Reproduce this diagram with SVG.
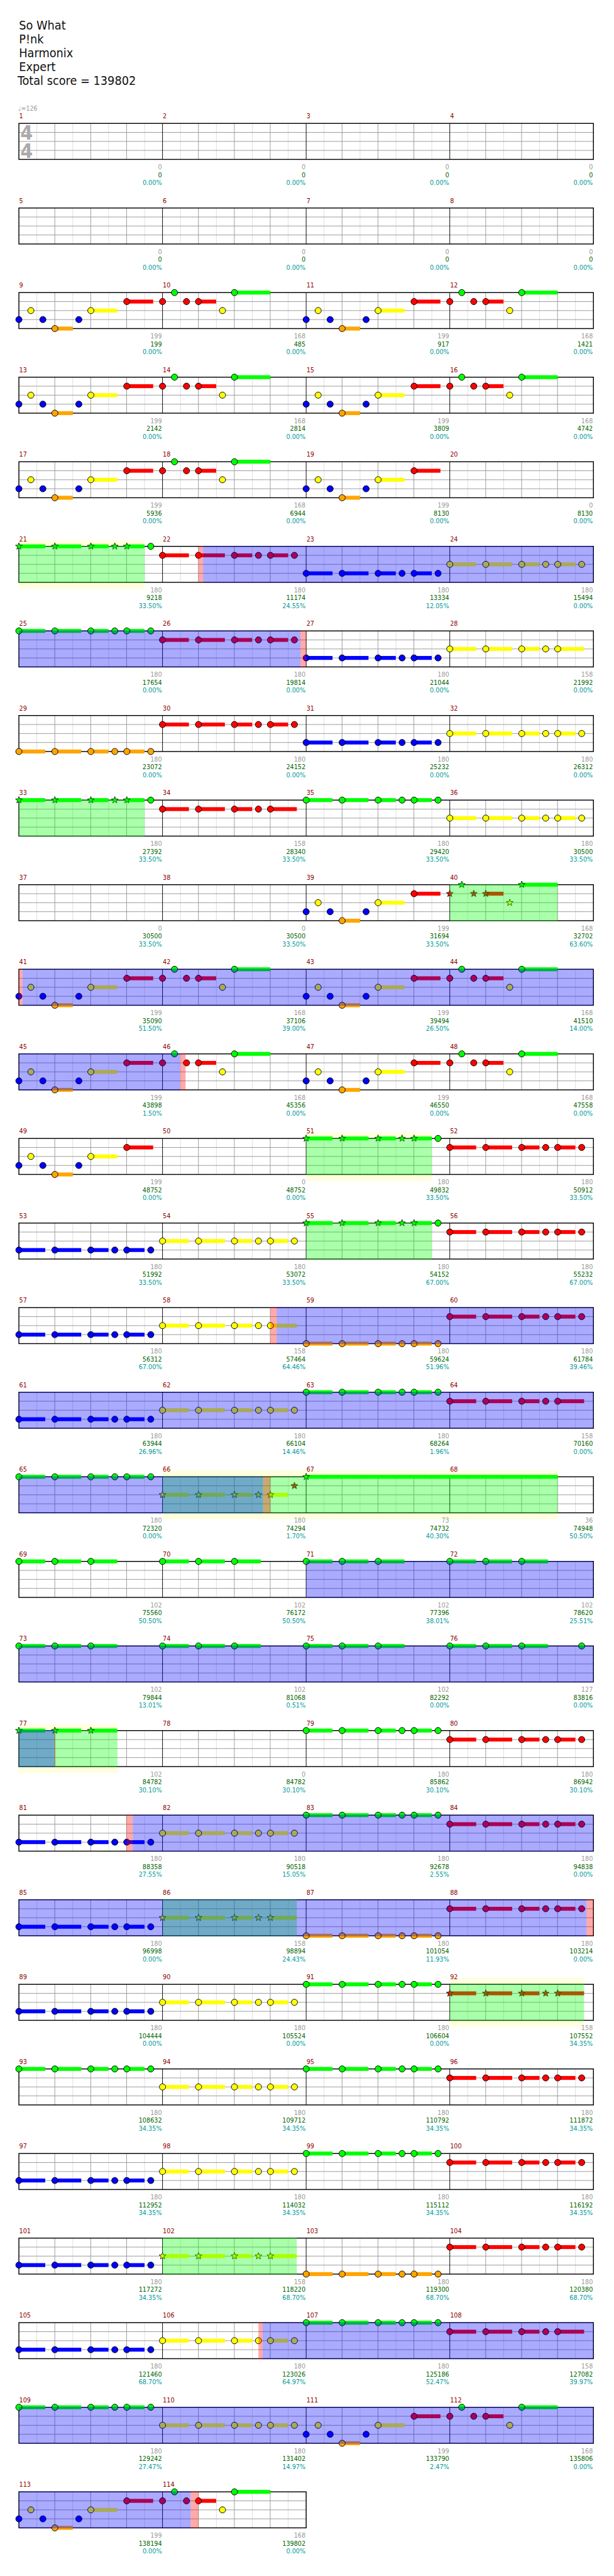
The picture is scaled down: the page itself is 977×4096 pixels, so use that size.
<svg xmlns="http://www.w3.org/2000/svg" width="977" height="4096" viewBox="0 0 977 4096">
<style>
text{font-family:"DejaVu Sans Condensed","DejaVu Sans",sans-serif;font-stretch:condensed}
.mn{fill:#8b0000;font-size:11.3px}
.a{fill:#999;font-size:11.3px;text-anchor:end}
.b{fill:#006400;font-size:11.3px;text-anchor:end}
.p{fill:#009999;font-size:11.3px;text-anchor:end}
.og{fill:#0f0;fill-opacity:.333}
.ob{fill:#00f;fill-opacity:.333}
.op{fill:#f00;fill-opacity:.333}
.bd{fill:#ffffdd}
</style>
<defs>
<circle id="c" r="5.2" stroke="#000" stroke-width="1"/>
<path id="s" d="M0,-6 L1.47,-2.02 5.71,-1.85 2.38,0.77 3.53,4.85 0,2.5 -3.53,4.85 -2.38,0.77 -5.71,-1.85 -1.47,-2.02Z" stroke="#000" stroke-width="0.8"/>
<g id="tB"><rect y="-3.25" width="44" height="6.5"/><rect x="60" y="-3.25" width="44" height="6.5"/><rect x="120" y="-3.25" width="29.5" height="6.5"/><rect x="180" y="-3.25" width="29.5" height="6.5"/></g>
<g id="tB5"><rect y="-3.25" width="44" height="6.5"/><rect x="60" y="-3.25" width="44" height="6.5"/><rect x="120" y="-3.25" width="29.5" height="6.5"/><rect x="180" y="-3.25" width="44" height="6.5"/></g>
<g id="pB"><use href="#tB"/><use href="#c"/><use href="#c" x="60"/><use href="#c" x="120"/><use href="#c" x="160"/><use href="#c" x="180"/><use href="#c" x="220"/></g>
<g id="pB5"><use href="#tB5"/><use href="#c"/><use href="#c" x="60"/><use href="#c" x="120"/><use href="#c" x="160"/><use href="#c" x="180"/></g>
<g id="sB"><use href="#tB"/><use href="#s"/><use href="#s" x="60"/><use href="#s" x="120"/><use href="#s" x="160"/><use href="#s" x="180"/><use href="#c" x="220"/></g>
<g id="sB5"><use href="#tB5"/><use href="#s"/><use href="#s" x="60"/><use href="#s" x="120"/><use href="#s" x="160"/><use href="#s" x="180"/></g>
<g id="g3"><rect y="-3.25" width="44" height="6.5"/><rect x="60" y="-3.25" width="44" height="6.5"/><rect x="120" y="-3.25" width="44" height="6.5"/><use href="#c"/><use href="#c" x="60"/><use href="#c" x="120"/></g>
<g id="s3"><rect y="-3.25" width="44" height="6.5"/><rect x="60" y="-3.25" width="44" height="6.5"/><rect x="120" y="-3.25" width="44" height="6.5"/><use href="#s"/><use href="#s" x="60"/><use href="#s" x="120"/></g>
<g id="A1">
<rect x="60" y="56.75" width="30" height="6.5" fill="#ffa500"/>
<rect x="120" y="26.75" width="44" height="6.5" fill="#ff0"/>
<rect x="180" y="11.75" width="44" height="6.5" fill="#f00"/>
<use href="#c" y="45" fill="#00f"/>
<use href="#c" x="20" y="30" fill="#ff0"/>
<use href="#c" x="40" y="45" fill="#00f"/>
<use href="#c" x="60" y="60" fill="#ffa500"/>
<use href="#c" x="100" y="45" fill="#00f"/>
<use href="#c" x="120" y="30" fill="#ff0"/>
<use href="#c" x="180" y="15" fill="#f00"/>
</g>
<g id="A2">
<rect x="60" y="11.75" width="29.5" height="6.5" fill="#f00"/>
<rect x="120" y="-3.25" width="60" height="6.5" fill="#0f0"/>
<use href="#c" y="15" fill="#f00"/>
<use href="#c" x="20" fill="#0f0"/>
<use href="#c" x="40" y="15" fill="#f00"/>
<use href="#c" x="60" y="15" fill="#f00"/>
<use href="#c" x="100" y="30" fill="#ff0"/>
<use href="#c" x="120" fill="#0f0"/>
</g>
<g id="sA2">
<rect x="60" y="11.75" width="29.5" height="6.5" fill="#f00"/>
<rect x="120" y="-3.25" width="60" height="6.5" fill="#0f0"/>
<use href="#s" y="15" fill="#f00"/>
<use href="#s" x="20" fill="#0f0"/>
<use href="#s" x="40" y="15" fill="#f00"/>
<use href="#s" x="60" y="15" fill="#f00"/>
<use href="#s" x="100" y="30" fill="#ff0"/>
<use href="#s" x="120" fill="#0f0"/>
</g>
<g id="st4">
<rect x="31.5" width="958.4" height="60" fill="#fff"/>
<path stroke="#ddd" fill="none" d="M61.45,0v60M121.35,0v60M181.25,0v60M241.15,0v60M301.05,0v60M360.95,0v60M420.85,0v60M480.75,0v60M540.65,0v60M600.55,0v60M660.45,0v60M720.35,0v60M780.25,0v60M840.15,0v60M900.05,0v60M959.95,0v60"/>
<path stroke="#999" fill="none" d="M91.4,0v60M151.3,0v60M211.2,0v60M331,0v60M390.9,0v60M450.8,0v60M570.6,0v60M630.5,0v60M690.4,0v60M810.2,0v60M870.1,0v60M930,0v60M31.5,15H989.9M31.5,30H989.9M31.5,45H989.9"/>
<path stroke="#000" fill="none" d="M271.1,0v60M510.7,0v60M750.3,0v60"/>
<rect x="31.5" width="958.4" height="60" fill="none" stroke="#000" stroke-width="1.5"/>
</g>
<g id="st2">
<rect x="31.5" width="479.2" height="60" fill="#fff"/>
<path stroke="#ddd" fill="none" d="M61.45,0v60M121.35,0v60M181.25,0v60M241.15,0v60M301.05,0v60M360.95,0v60M420.85,0v60M480.75,0v60"/>
<path stroke="#999" fill="none" d="M91.4,0v60M151.3,0v60M211.2,0v60M331,0v60M390.9,0v60M450.8,0v60M31.5,15H510.7M31.5,30H510.7M31.5,45H510.7"/>
<path stroke="#000" fill="none" d="M271.1,0v60"/>
<rect x="31.5" width="479.2" height="60" fill="none" stroke="#000" stroke-width="1.5"/>
</g>
</defs>
<g transform="scale(0.9539)">
<g id="title" fill="#111" font-size="20.7">
<text x="31.7" y="49.3" style="font-size:20.7px">So What</text>
<text x="31.7" y="72.3" style="font-size:20.7px">P!nk</text>
<text x="31.7" y="95.3" style="font-size:20.7px">Harmonix</text>
<text x="31.7" y="118.3" style="font-size:20.7px">Expert</text>
<text x="29.3" y="141.7" style="font-size:20.7px">Total score = 139802</text>
</g>

<g id="row1" transform="translate(0,205.7)">
<use href="#st4"/>
<text x="30.5" y="-20.7" style="fill:#999;font-size:11px">♩=126</text>
<text x="44.5" y="27.5" style="fill:#aaa;font-size:33px;font-weight:bold;text-anchor:middle">4</text>
<text x="44.5" y="57.5" style="fill:#aaa;font-size:33px;font-weight:bold;text-anchor:middle">4</text>
<text class="mn" x="32" y="-8.5">1</text><text class="mn" x="271.6" y="-8.5">2</text><text class="mn" x="511.2" y="-8.5">3</text><text class="mn" x="750.8" y="-8.5">4</text>
<text class="a" x="270.1" y="76.7">0</text><text class="b" x="270.1" y="89.7">0</text><text class="p" x="270.1" y="102.7">0.00%</text>
<text class="a" x="509.7" y="76.7">0</text><text class="b" x="509.7" y="89.7">0</text><text class="p" x="509.7" y="102.7">0.00%</text>
<text class="a" x="749.3" y="76.7">0</text><text class="b" x="749.3" y="89.7">0</text><text class="p" x="749.3" y="102.7">0.00%</text>
<text class="a" x="988.9" y="76.7">0</text><text class="b" x="988.9" y="89.7">0</text><text class="p" x="988.9" y="102.7">0.00%</text>
</g>

<g id="row2" transform="translate(0,346.7)">
<use href="#st4"/>
<text class="mn" x="32" y="-8.5">5</text><text class="mn" x="271.6" y="-8.5">6</text><text class="mn" x="511.2" y="-8.5">7</text><text class="mn" x="750.8" y="-8.5">8</text>
<text class="a" x="270.1" y="76.7">0</text><text class="b" x="270.1" y="89.7">0</text><text class="p" x="270.1" y="102.7">0.00%</text>
<text class="a" x="509.7" y="76.7">0</text><text class="b" x="509.7" y="89.7">0</text><text class="p" x="509.7" y="102.7">0.00%</text>
<text class="a" x="749.3" y="76.7">0</text><text class="b" x="749.3" y="89.7">0</text><text class="p" x="749.3" y="102.7">0.00%</text>
<text class="a" x="988.9" y="76.7">0</text><text class="b" x="988.9" y="89.7">0</text><text class="p" x="988.9" y="102.7">0.00%</text>
</g>

<g id="row3" transform="translate(0,487.7)">
<use href="#st4"/>
<use href="#A1" x="31.5"/><use href="#A2" x="271.1"/><use href="#A1" x="510.7"/><use href="#A2" x="750.3"/>
<text class="mn" x="32" y="-8.5">9</text><text class="mn" x="271.6" y="-8.5">10</text><text class="mn" x="511.2" y="-8.5">11</text><text class="mn" x="750.8" y="-8.5">12</text>
<text class="a" x="270.1" y="76.7">199</text><text class="b" x="270.1" y="89.7">199</text><text class="p" x="270.1" y="102.7">0.00%</text>
<text class="a" x="509.7" y="76.7">168</text><text class="b" x="509.7" y="89.7">485</text><text class="p" x="509.7" y="102.7">0.00%</text>
<text class="a" x="749.3" y="76.7">199</text><text class="b" x="749.3" y="89.7">917</text><text class="p" x="749.3" y="102.7">0.00%</text>
<text class="a" x="988.9" y="76.7">168</text><text class="b" x="988.9" y="89.7">1421</text><text class="p" x="988.9" y="102.7">0.00%</text>
</g>

<g id="row4" transform="translate(0,628.7)">
<use href="#st4"/>
<use href="#A1" x="31.5"/><use href="#A2" x="271.1"/><use href="#A1" x="510.7"/><use href="#A2" x="750.3"/>
<text class="mn" x="32" y="-8.5">13</text><text class="mn" x="271.6" y="-8.5">14</text><text class="mn" x="511.2" y="-8.5">15</text><text class="mn" x="750.8" y="-8.5">16</text>
<text class="a" x="270.1" y="76.7">199</text><text class="b" x="270.1" y="89.7">2142</text><text class="p" x="270.1" y="102.7">0.00%</text>
<text class="a" x="509.7" y="76.7">168</text><text class="b" x="509.7" y="89.7">2814</text><text class="p" x="509.7" y="102.7">0.00%</text>
<text class="a" x="749.3" y="76.7">199</text><text class="b" x="749.3" y="89.7">3809</text><text class="p" x="749.3" y="102.7">0.00%</text>
<text class="a" x="988.9" y="76.7">168</text><text class="b" x="988.9" y="89.7">4742</text><text class="p" x="988.9" y="102.7">0.00%</text>
</g>

<g id="row5" transform="translate(0,769.7)">
<use href="#st4"/>
<use href="#A1" x="31.5"/><use href="#A2" x="271.1"/><use href="#A1" x="510.7"/>
<text class="mn" x="32" y="-8.5">17</text><text class="mn" x="271.6" y="-8.5">18</text><text class="mn" x="511.2" y="-8.5">19</text><text class="mn" x="750.8" y="-8.5">20</text>
<text class="a" x="270.1" y="76.7">199</text><text class="b" x="270.1" y="89.7">5936</text><text class="p" x="270.1" y="102.7">0.00%</text>
<text class="a" x="509.7" y="76.7">168</text><text class="b" x="509.7" y="89.7">6944</text><text class="p" x="509.7" y="102.7">0.00%</text>
<text class="a" x="749.3" y="76.7">199</text><text class="b" x="749.3" y="89.7">8130</text><text class="p" x="749.3" y="102.7">0.00%</text>
<text class="a" x="988.9" y="76.7">0</text><text class="b" x="988.9" y="89.7">8130</text><text class="p" x="988.9" y="102.7">0.00%</text>
</g>

<g id="row6" transform="translate(0,910.7)">
<rect class="bd" x="31.5" y="-10.5" width="209.7" height="81"/>
<use href="#st4"/>
<use href="#sB" x="31.5" y="0" fill="#0f0"/><use href="#pB" x="271.1" y="15" fill="#f00"/><use href="#pB" x="510.7" y="45" fill="#00f"/><use href="#pB" x="750.3" y="30" fill="#ff0"/>
<rect class="og" x="31.5" y="-0.75" width="209.7" height="61.5"/>
<rect class="op" x="331.1" y="-0.75" width="7.7" height="61.5"/>
<rect class="ob" x="338.8" y="-0.75" width="651.1" height="61.5"/>
<text class="mn" x="32" y="-8.5">21</text><text class="mn" x="271.6" y="-8.5">22</text><text class="mn" x="511.2" y="-8.5">23</text><text class="mn" x="750.8" y="-8.5">24</text>
<text class="a" x="270.1" y="76.7">180</text><text class="b" x="270.1" y="89.7">9218</text><text class="p" x="270.1" y="102.7">33.50%</text>
<text class="a" x="509.7" y="76.7">180</text><text class="b" x="509.7" y="89.7">11174</text><text class="p" x="509.7" y="102.7">24.55%</text>
<text class="a" x="749.3" y="76.7">180</text><text class="b" x="749.3" y="89.7">13334</text><text class="p" x="749.3" y="102.7">12.05%</text>
<text class="a" x="988.9" y="76.7">180</text><text class="b" x="988.9" y="89.7">15494</text><text class="p" x="988.9" y="102.7">0.00%</text>
</g>

<g id="row7" transform="translate(0,1051.7)">
<use href="#st4"/>
<use href="#pB" x="31.5" y="0" fill="#0f0"/><use href="#pB" x="271.1" y="15" fill="#f00"/><use href="#pB" x="510.7" y="45" fill="#00f"/><use href="#pB5" x="750.3" y="30" fill="#ff0"/>
<rect class="ob" x="31.5" y="-0.75" width="469.9" height="61.5"/>
<rect class="op" x="501.4" y="-0.75" width="9.3" height="61.5"/>
<text class="mn" x="32" y="-8.5">25</text><text class="mn" x="271.6" y="-8.5">26</text><text class="mn" x="511.2" y="-8.5">27</text><text class="mn" x="750.8" y="-8.5">28</text>
<text class="a" x="270.1" y="76.7">180</text><text class="b" x="270.1" y="89.7">17654</text><text class="p" x="270.1" y="102.7">0.00%</text>
<text class="a" x="509.7" y="76.7">180</text><text class="b" x="509.7" y="89.7">19814</text><text class="p" x="509.7" y="102.7">0.00%</text>
<text class="a" x="749.3" y="76.7">180</text><text class="b" x="749.3" y="89.7">21044</text><text class="p" x="749.3" y="102.7">0.00%</text>
<text class="a" x="988.9" y="76.7">158</text><text class="b" x="988.9" y="89.7">21992</text><text class="p" x="988.9" y="102.7">0.00%</text>
</g>

<g id="row8" transform="translate(0,1192.7)">
<use href="#st4"/>
<use href="#pB" x="31.5" y="60" fill="#ffa500"/><use href="#pB" x="271.1" y="15" fill="#f00"/><use href="#pB" x="510.7" y="45" fill="#00f"/><use href="#pB" x="750.3" y="30" fill="#ff0"/>
<text class="mn" x="32" y="-8.5">29</text><text class="mn" x="271.6" y="-8.5">30</text><text class="mn" x="511.2" y="-8.5">31</text><text class="mn" x="750.8" y="-8.5">32</text>
<text class="a" x="270.1" y="76.7">180</text><text class="b" x="270.1" y="89.7">23072</text><text class="p" x="270.1" y="102.7">0.00%</text>
<text class="a" x="509.7" y="76.7">180</text><text class="b" x="509.7" y="89.7">24152</text><text class="p" x="509.7" y="102.7">0.00%</text>
<text class="a" x="749.3" y="76.7">180</text><text class="b" x="749.3" y="89.7">25232</text><text class="p" x="749.3" y="102.7">0.00%</text>
<text class="a" x="988.9" y="76.7">180</text><text class="b" x="988.9" y="89.7">26312</text><text class="p" x="988.9" y="102.7">0.00%</text>
</g>

<g id="row9" transform="translate(0,1333.7)">
<use href="#st4"/>
<use href="#sB" x="31.5" y="0" fill="#0f0"/><use href="#pB5" x="271.1" y="15" fill="#f00"/><use href="#pB" x="510.7" y="0" fill="#0f0"/><use href="#pB" x="750.3" y="30" fill="#ff0"/>
<rect class="og" x="31.5" y="-0.75" width="209.7" height="61.5"/>
<text class="mn" x="32" y="-8.5">33</text><text class="mn" x="271.6" y="-8.5">34</text><text class="mn" x="511.2" y="-8.5">35</text><text class="mn" x="750.8" y="-8.5">36</text>
<text class="a" x="270.1" y="76.7">180</text><text class="b" x="270.1" y="89.7">27392</text><text class="p" x="270.1" y="102.7">33.50%</text>
<text class="a" x="509.7" y="76.7">158</text><text class="b" x="509.7" y="89.7">28340</text><text class="p" x="509.7" y="102.7">33.50%</text>
<text class="a" x="749.3" y="76.7">180</text><text class="b" x="749.3" y="89.7">29420</text><text class="p" x="749.3" y="102.7">33.50%</text>
<text class="a" x="988.9" y="76.7">180</text><text class="b" x="988.9" y="89.7">30500</text><text class="p" x="988.9" y="102.7">33.50%</text>
</g>

<g id="row10" transform="translate(0,1474.7)">
<use href="#st4"/>
<use href="#A1" x="510.7"/><use href="#sA2" x="750.3"/>
<rect class="og" x="750.3" y="-0.75" width="179.7" height="61.5"/>
<text class="mn" x="32" y="-8.5">37</text><text class="mn" x="271.6" y="-8.5">38</text><text class="mn" x="511.2" y="-8.5">39</text><text class="mn" x="750.8" y="-8.5">40</text>
<text class="a" x="270.1" y="76.7">0</text><text class="b" x="270.1" y="89.7">30500</text><text class="p" x="270.1" y="102.7">33.50%</text>
<text class="a" x="509.7" y="76.7">0</text><text class="b" x="509.7" y="89.7">30500</text><text class="p" x="509.7" y="102.7">33.50%</text>
<text class="a" x="749.3" y="76.7">199</text><text class="b" x="749.3" y="89.7">31694</text><text class="p" x="749.3" y="102.7">33.50%</text>
<text class="a" x="988.9" y="76.7">168</text><text class="b" x="988.9" y="89.7">32702</text><text class="p" x="988.9" y="102.7">63.60%</text>
</g>

<g id="row11" transform="translate(0,1615.7)">
<use href="#st4"/>
<use href="#A1" x="31.5"/><use href="#A2" x="271.1"/><use href="#A1" x="510.7"/><use href="#A2" x="750.3"/>
<rect class="op" x="31.5" y="-0.75" width="6" height="61.5"/>
<rect class="ob" x="37.5" y="-0.75" width="952.4" height="61.5"/>
<text class="mn" x="32" y="-8.5">41</text><text class="mn" x="271.6" y="-8.5">42</text><text class="mn" x="511.2" y="-8.5">43</text><text class="mn" x="750.8" y="-8.5">44</text>
<text class="a" x="270.1" y="76.7">199</text><text class="b" x="270.1" y="89.7">35090</text><text class="p" x="270.1" y="102.7">51.50%</text>
<text class="a" x="509.7" y="76.7">168</text><text class="b" x="509.7" y="89.7">37106</text><text class="p" x="509.7" y="102.7">39.00%</text>
<text class="a" x="749.3" y="76.7">199</text><text class="b" x="749.3" y="89.7">39494</text><text class="p" x="749.3" y="102.7">26.50%</text>
<text class="a" x="988.9" y="76.7">168</text><text class="b" x="988.9" y="89.7">41510</text><text class="p" x="988.9" y="102.7">14.00%</text>
</g>

<g id="row12" transform="translate(0,1756.7)">
<use href="#st4"/>
<use href="#A1" x="31.5"/><use href="#A2" x="271.1"/><use href="#A1" x="510.7"/><use href="#A2" x="750.3"/>
<rect class="ob" x="31.5" y="-0.75" width="269.1" height="61.5"/>
<rect class="op" x="300.6" y="-0.75" width="9" height="61.5"/>
<text class="mn" x="32" y="-8.5">45</text><text class="mn" x="271.6" y="-8.5">46</text><text class="mn" x="511.2" y="-8.5">47</text><text class="mn" x="750.8" y="-8.5">48</text>
<text class="a" x="270.1" y="76.7">199</text><text class="b" x="270.1" y="89.7">43898</text><text class="p" x="270.1" y="102.7">1.50%</text>
<text class="a" x="509.7" y="76.7">168</text><text class="b" x="509.7" y="89.7">45356</text><text class="p" x="509.7" y="102.7">0.00%</text>
<text class="a" x="749.3" y="76.7">199</text><text class="b" x="749.3" y="89.7">46550</text><text class="p" x="749.3" y="102.7">0.00%</text>
<text class="a" x="988.9" y="76.7">168</text><text class="b" x="988.9" y="89.7">47558</text><text class="p" x="988.9" y="102.7">0.00%</text>
</g>

<g id="row13" transform="translate(0,1897.7)">
<rect class="bd" x="510.7" y="-10.5" width="209.7" height="81"/>
<use href="#st4"/>
<use href="#A1" x="31.5"/><use href="#sB" x="510.7" y="0" fill="#0f0"/><use href="#pB" x="750.3" y="15" fill="#f00"/>
<rect class="og" x="510.7" y="-0.75" width="209.7" height="61.5"/>
<text class="mn" x="32" y="-8.5">49</text><text class="mn" x="271.6" y="-8.5">50</text><text class="mn" x="511.2" y="-8.5">51</text><text class="mn" x="750.8" y="-8.5">52</text>
<text class="a" x="270.1" y="76.7">199</text><text class="b" x="270.1" y="89.7">48752</text><text class="p" x="270.1" y="102.7">0.00%</text>
<text class="a" x="509.7" y="76.7">0</text><text class="b" x="509.7" y="89.7">48752</text><text class="p" x="509.7" y="102.7">0.00%</text>
<text class="a" x="749.3" y="76.7">180</text><text class="b" x="749.3" y="89.7">49832</text><text class="p" x="749.3" y="102.7">33.50%</text>
<text class="a" x="988.9" y="76.7">180</text><text class="b" x="988.9" y="89.7">50912</text><text class="p" x="988.9" y="102.7">33.50%</text>
</g>

<g id="row14" transform="translate(0,2038.7)">
<use href="#st4"/>
<use href="#pB" x="31.5" y="45" fill="#00f"/><use href="#pB" x="271.1" y="30" fill="#ff0"/><use href="#sB" x="510.7" y="0" fill="#0f0"/><use href="#pB" x="750.3" y="15" fill="#f00"/>
<rect class="og" x="510.7" y="-0.75" width="209.7" height="61.5"/>
<text class="mn" x="32" y="-8.5">53</text><text class="mn" x="271.6" y="-8.5">54</text><text class="mn" x="511.2" y="-8.5">55</text><text class="mn" x="750.8" y="-8.5">56</text>
<text class="a" x="270.1" y="76.7">180</text><text class="b" x="270.1" y="89.7">51992</text><text class="p" x="270.1" y="102.7">33.50%</text>
<text class="a" x="509.7" y="76.7">180</text><text class="b" x="509.7" y="89.7">53072</text><text class="p" x="509.7" y="102.7">33.50%</text>
<text class="a" x="749.3" y="76.7">180</text><text class="b" x="749.3" y="89.7">54152</text><text class="p" x="749.3" y="102.7">67.00%</text>
<text class="a" x="988.9" y="76.7">180</text><text class="b" x="988.9" y="89.7">55232</text><text class="p" x="988.9" y="102.7">67.00%</text>
</g>

<g id="row15" transform="translate(0,2179.7)">
<use href="#st4"/>
<use href="#pB" x="31.5" y="45" fill="#00f"/><use href="#pB5" x="271.1" y="30" fill="#ff0"/><use href="#pB" x="510.7" y="60" fill="#ffa500"/><use href="#pB" x="750.3" y="15" fill="#f00"/>
<rect class="op" x="451.1" y="-0.75" width="10.4" height="61.5"/>
<rect class="ob" x="461.5" y="-0.75" width="528.4" height="61.5"/>
<text class="mn" x="32" y="-8.5">57</text><text class="mn" x="271.6" y="-8.5">58</text><text class="mn" x="511.2" y="-8.5">59</text><text class="mn" x="750.8" y="-8.5">60</text>
<text class="a" x="270.1" y="76.7">180</text><text class="b" x="270.1" y="89.7">56312</text><text class="p" x="270.1" y="102.7">67.00%</text>
<text class="a" x="509.7" y="76.7">158</text><text class="b" x="509.7" y="89.7">57464</text><text class="p" x="509.7" y="102.7">64.46%</text>
<text class="a" x="749.3" y="76.7">180</text><text class="b" x="749.3" y="89.7">59624</text><text class="p" x="749.3" y="102.7">51.96%</text>
<text class="a" x="988.9" y="76.7">180</text><text class="b" x="988.9" y="89.7">61784</text><text class="p" x="988.9" y="102.7">39.46%</text>
</g>

<g id="row16" transform="translate(0,2320.7)">
<use href="#st4"/>
<use href="#pB" x="31.5" y="45" fill="#00f"/><use href="#pB" x="271.1" y="30" fill="#ff0"/><use href="#pB" x="510.7" y="0" fill="#0f0"/><use href="#pB5" x="750.3" y="15" fill="#f00"/>
<rect class="ob" x="31.5" y="-0.75" width="958.4" height="61.5"/>
<text class="mn" x="32" y="-8.5">61</text><text class="mn" x="271.6" y="-8.5">62</text><text class="mn" x="511.2" y="-8.5">63</text><text class="mn" x="750.8" y="-8.5">64</text>
<text class="a" x="270.1" y="76.7">180</text><text class="b" x="270.1" y="89.7">63944</text><text class="p" x="270.1" y="102.7">26.96%</text>
<text class="a" x="509.7" y="76.7">180</text><text class="b" x="509.7" y="89.7">66104</text><text class="p" x="509.7" y="102.7">14.46%</text>
<text class="a" x="749.3" y="76.7">180</text><text class="b" x="749.3" y="89.7">68264</text><text class="p" x="749.3" y="102.7">1.96%</text>
<text class="a" x="988.9" y="76.7">158</text><text class="b" x="988.9" y="89.7">70160</text><text class="p" x="988.9" y="102.7">0.00%</text>
</g>

<g id="row17" transform="translate(0,2461.7)">
<rect class="bd" x="271.1" y="-10.5" width="659.2" height="81"/>
<use href="#st4"/>
<use href="#pB" x="31.5" y="0" fill="#0f0"/>
<use href="#tB" x="271.1" y="30" fill="#ff0"/>
<use href="#s" x="271.1" y="30" fill="#ff0"/><use href="#s" x="331.1" y="30" fill="#ff0"/><use href="#s" x="391.1" y="30" fill="#ff0"/><use href="#s" x="431.1" y="30" fill="#ff0"/><use href="#s" x="451.1" y="30" fill="#ff0"/>
<use href="#s" x="491.1" y="15" fill="#f00"/>
<rect x="510.7" y="-3.25" width="419.6" height="6.5" fill="#0f0"/>
<use href="#s" x="510.7" y="0" fill="#0f0"/>
<rect class="og" x="271.1" y="-0.75" width="659.2" height="61.5"/>
<rect class="ob" x="31.5" y="-0.75" width="407.3" height="61.5"/>
<rect class="op" x="438.8" y="-0.75" width="12.3" height="61.5"/>
<text class="mn" x="32" y="-8.5">65</text><text class="mn" x="271.6" y="-8.5">66</text><text class="mn" x="511.2" y="-8.5">67</text><text class="mn" x="750.8" y="-8.5">68</text>
<text class="a" x="270.1" y="76.7">180</text><text class="b" x="270.1" y="89.7">72320</text><text class="p" x="270.1" y="102.7">0.00%</text>
<text class="a" x="509.7" y="76.7">180</text><text class="b" x="509.7" y="89.7">74294</text><text class="p" x="509.7" y="102.7">1.70%</text>
<text class="a" x="749.3" y="76.7">73</text><text class="b" x="749.3" y="89.7">74732</text><text class="p" x="749.3" y="102.7">40.30%</text>
<text class="a" x="988.9" y="76.7">36</text><text class="b" x="988.9" y="89.7">74948</text><text class="p" x="988.9" y="102.7">50.50%</text>
</g>

<g id="row18" transform="translate(0,2602.7)">
<use href="#st4"/>
<use href="#g3" x="31.5" y="0" fill="#0f0"/><use href="#g3" x="271.1" y="0" fill="#0f0"/><use href="#g3" x="510.7" y="0" fill="#0f0"/><use href="#g3" x="750.3" y="0" fill="#0f0"/>
<rect class="ob" x="510.7" y="-0.75" width="479.2" height="61.5"/>
<text class="mn" x="32" y="-8.5">69</text><text class="mn" x="271.6" y="-8.5">70</text><text class="mn" x="511.2" y="-8.5">71</text><text class="mn" x="750.8" y="-8.5">72</text>
<text class="a" x="270.1" y="76.7">102</text><text class="b" x="270.1" y="89.7">75560</text><text class="p" x="270.1" y="102.7">50.50%</text>
<text class="a" x="509.7" y="76.7">102</text><text class="b" x="509.7" y="89.7">76172</text><text class="p" x="509.7" y="102.7">50.50%</text>
<text class="a" x="749.3" y="76.7">102</text><text class="b" x="749.3" y="89.7">77396</text><text class="p" x="749.3" y="102.7">38.01%</text>
<text class="a" x="988.9" y="76.7">102</text><text class="b" x="988.9" y="89.7">78620</text><text class="p" x="988.9" y="102.7">25.51%</text>
</g>

<g id="row19" transform="translate(0,2743.7)">
<use href="#st4"/>
<use href="#g3" x="31.5" y="0" fill="#0f0"/><use href="#g3" x="271.1" y="0" fill="#0f0"/><use href="#g3" x="510.7" y="0" fill="#0f0"/><use href="#g3" x="750.3" y="0" fill="#0f0"/>
<use href="#c" x="970.3" y="0" fill="#0f0"/>
<rect class="ob" x="31.5" y="-0.75" width="958.4" height="61.5"/>
<text class="mn" x="32" y="-8.5">73</text><text class="mn" x="271.6" y="-8.5">74</text><text class="mn" x="511.2" y="-8.5">75</text><text class="mn" x="750.8" y="-8.5">76</text>
<text class="a" x="270.1" y="76.7">102</text><text class="b" x="270.1" y="89.7">79844</text><text class="p" x="270.1" y="102.7">13.01%</text>
<text class="a" x="509.7" y="76.7">102</text><text class="b" x="509.7" y="89.7">81068</text><text class="p" x="509.7" y="102.7">0.51%</text>
<text class="a" x="749.3" y="76.7">102</text><text class="b" x="749.3" y="89.7">82292</text><text class="p" x="749.3" y="102.7">0.00%</text>
<text class="a" x="988.9" y="76.7">127</text><text class="b" x="988.9" y="89.7">83816</text><text class="p" x="988.9" y="102.7">0.00%</text>
</g>

<g id="row20" transform="translate(0,2884.7)">
<rect class="bd" x="31.5" y="-10.5" width="164.5" height="81"/>
<use href="#st4"/>
<use href="#s3" x="31.5" y="0" fill="#0f0"/><use href="#pB" x="510.7" y="0" fill="#0f0"/><use href="#pB" x="750.3" y="15" fill="#f00"/>
<rect class="og" x="31.5" y="-0.75" width="164.5" height="61.5"/>
<rect class="ob" x="31.5" y="-0.75" width="59.4" height="61.5"/>
<rect class="op" x="90.9" y="-0.75" width="1.5" height="61.5"/>
<text class="mn" x="32" y="-8.5">77</text><text class="mn" x="271.6" y="-8.5">78</text><text class="mn" x="511.2" y="-8.5">79</text><text class="mn" x="750.8" y="-8.5">80</text>
<text class="a" x="270.1" y="76.7">102</text><text class="b" x="270.1" y="89.7">84782</text><text class="p" x="270.1" y="102.7">30.10%</text>
<text class="a" x="509.7" y="76.7">0</text><text class="b" x="509.7" y="89.7">84782</text><text class="p" x="509.7" y="102.7">30.10%</text>
<text class="a" x="749.3" y="76.7">180</text><text class="b" x="749.3" y="89.7">85862</text><text class="p" x="749.3" y="102.7">30.10%</text>
<text class="a" x="988.9" y="76.7">180</text><text class="b" x="988.9" y="89.7">86942</text><text class="p" x="988.9" y="102.7">30.10%</text>
</g>

<g id="row21" transform="translate(0,3025.7)">
<use href="#st4"/>
<use href="#pB" x="31.5" y="45" fill="#00f"/><use href="#pB" x="271.1" y="30" fill="#ff0"/><use href="#pB" x="510.7" y="0" fill="#0f0"/><use href="#pB" x="750.3" y="15" fill="#f00"/>
<rect class="op" x="211" y="-0.75" width="10.5" height="61.5"/>
<rect class="ob" x="221.5" y="-0.75" width="768.4" height="61.5"/>
<text class="mn" x="32" y="-8.5">81</text><text class="mn" x="271.6" y="-8.5">82</text><text class="mn" x="511.2" y="-8.5">83</text><text class="mn" x="750.8" y="-8.5">84</text>
<text class="a" x="270.1" y="76.7">180</text><text class="b" x="270.1" y="89.7">88358</text><text class="p" x="270.1" y="102.7">27.55%</text>
<text class="a" x="509.7" y="76.7">180</text><text class="b" x="509.7" y="89.7">90518</text><text class="p" x="509.7" y="102.7">15.05%</text>
<text class="a" x="749.3" y="76.7">180</text><text class="b" x="749.3" y="89.7">92678</text><text class="p" x="749.3" y="102.7">2.55%</text>
<text class="a" x="988.9" y="76.7">180</text><text class="b" x="988.9" y="89.7">94838</text><text class="p" x="988.9" y="102.7">0.00%</text>
</g>

<g id="row22" transform="translate(0,3166.7)">
<use href="#st4"/>
<use href="#pB" x="31.5" y="45" fill="#00f"/><use href="#sB5" x="271.1" y="30" fill="#ff0"/><use href="#pB" x="510.7" y="60" fill="#ffa500"/><use href="#pB" x="750.3" y="15" fill="#f00"/>
<rect class="og" x="271.1" y="-0.75" width="224" height="61.5"/>
<rect class="ob" x="31.5" y="-0.75" width="946.9" height="61.5"/>
<rect class="op" x="978.4" y="-0.75" width="11.5" height="61.5"/>
<text class="mn" x="32" y="-8.5">85</text><text class="mn" x="271.6" y="-8.5">86</text><text class="mn" x="511.2" y="-8.5">87</text><text class="mn" x="750.8" y="-8.5">88</text>
<text class="a" x="270.1" y="76.7">180</text><text class="b" x="270.1" y="89.7">96998</text><text class="p" x="270.1" y="102.7">0.00%</text>
<text class="a" x="509.7" y="76.7">158</text><text class="b" x="509.7" y="89.7">98894</text><text class="p" x="509.7" y="102.7">24.43%</text>
<text class="a" x="749.3" y="76.7">180</text><text class="b" x="749.3" y="89.7">101054</text><text class="p" x="749.3" y="102.7">11.93%</text>
<text class="a" x="988.9" y="76.7">180</text><text class="b" x="988.9" y="89.7">103214</text><text class="p" x="988.9" y="102.7">0.00%</text>
</g>

<g id="row23" transform="translate(0,3307.7)">
<rect class="bd" x="750.3" y="-10.5" width="224" height="81"/>
<use href="#st4"/>
<use href="#pB" x="31.5" y="45" fill="#00f"/><use href="#pB" x="271.1" y="30" fill="#ff0"/><use href="#pB" x="510.7" y="0" fill="#0f0"/><use href="#sB5" x="750.3" y="15" fill="#f00"/>
<rect class="og" x="750.3" y="-0.75" width="224" height="61.5"/>
<text class="mn" x="32" y="-8.5">89</text><text class="mn" x="271.6" y="-8.5">90</text><text class="mn" x="511.2" y="-8.5">91</text><text class="mn" x="750.8" y="-8.5">92</text>
<text class="a" x="270.1" y="76.7">180</text><text class="b" x="270.1" y="89.7">104444</text><text class="p" x="270.1" y="102.7">0.00%</text>
<text class="a" x="509.7" y="76.7">180</text><text class="b" x="509.7" y="89.7">105524</text><text class="p" x="509.7" y="102.7">0.00%</text>
<text class="a" x="749.3" y="76.7">180</text><text class="b" x="749.3" y="89.7">106604</text><text class="p" x="749.3" y="102.7">0.00%</text>
<text class="a" x="988.9" y="76.7">158</text><text class="b" x="988.9" y="89.7">107552</text><text class="p" x="988.9" y="102.7">34.35%</text>
</g>

<g id="row24" transform="translate(0,3448.7)">
<use href="#st4"/>
<use href="#pB" x="31.5" y="0" fill="#0f0"/><use href="#pB" x="271.1" y="30" fill="#ff0"/><use href="#pB" x="510.7" y="0" fill="#0f0"/><use href="#pB" x="750.3" y="15" fill="#f00"/>
<text class="mn" x="32" y="-8.5">93</text><text class="mn" x="271.6" y="-8.5">94</text><text class="mn" x="511.2" y="-8.5">95</text><text class="mn" x="750.8" y="-8.5">96</text>
<text class="a" x="270.1" y="76.7">180</text><text class="b" x="270.1" y="89.7">108632</text><text class="p" x="270.1" y="102.7">34.35%</text>
<text class="a" x="509.7" y="76.7">180</text><text class="b" x="509.7" y="89.7">109712</text><text class="p" x="509.7" y="102.7">34.35%</text>
<text class="a" x="749.3" y="76.7">180</text><text class="b" x="749.3" y="89.7">110792</text><text class="p" x="749.3" y="102.7">34.35%</text>
<text class="a" x="988.9" y="76.7">180</text><text class="b" x="988.9" y="89.7">111872</text><text class="p" x="988.9" y="102.7">34.35%</text>
</g>

<g id="row25" transform="translate(0,3589.7)">
<use href="#st4"/>
<use href="#pB" x="31.5" y="45" fill="#00f"/><use href="#pB" x="271.1" y="30" fill="#ff0"/><use href="#pB" x="510.7" y="0" fill="#0f0"/><use href="#pB" x="750.3" y="15" fill="#f00"/>
<text class="mn" x="32" y="-8.5">97</text><text class="mn" x="271.6" y="-8.5">98</text><text class="mn" x="511.2" y="-8.5">99</text><text class="mn" x="750.8" y="-8.5">100</text>
<text class="a" x="270.1" y="76.7">180</text><text class="b" x="270.1" y="89.7">112952</text><text class="p" x="270.1" y="102.7">34.35%</text>
<text class="a" x="509.7" y="76.7">180</text><text class="b" x="509.7" y="89.7">114032</text><text class="p" x="509.7" y="102.7">34.35%</text>
<text class="a" x="749.3" y="76.7">180</text><text class="b" x="749.3" y="89.7">115112</text><text class="p" x="749.3" y="102.7">34.35%</text>
<text class="a" x="988.9" y="76.7">180</text><text class="b" x="988.9" y="89.7">116192</text><text class="p" x="988.9" y="102.7">34.35%</text>
</g>

<g id="row26" transform="translate(0,3730.7)">
<use href="#st4"/>
<use href="#pB" x="31.5" y="45" fill="#00f"/><use href="#sB5" x="271.1" y="30" fill="#ff0"/><use href="#pB" x="510.7" y="60" fill="#ffa500"/><use href="#pB" x="750.3" y="15" fill="#f00"/>
<rect class="og" x="271.1" y="-0.75" width="224" height="61.5"/>
<text class="mn" x="32" y="-8.5">101</text><text class="mn" x="271.6" y="-8.5">102</text><text class="mn" x="511.2" y="-8.5">103</text><text class="mn" x="750.8" y="-8.5">104</text>
<text class="a" x="270.1" y="76.7">180</text><text class="b" x="270.1" y="89.7">117272</text><text class="p" x="270.1" y="102.7">34.35%</text>
<text class="a" x="509.7" y="76.7">158</text><text class="b" x="509.7" y="89.7">118220</text><text class="p" x="509.7" y="102.7">68.70%</text>
<text class="a" x="749.3" y="76.7">180</text><text class="b" x="749.3" y="89.7">119300</text><text class="p" x="749.3" y="102.7">68.70%</text>
<text class="a" x="988.9" y="76.7">180</text><text class="b" x="988.9" y="89.7">120380</text><text class="p" x="988.9" y="102.7">68.70%</text>
</g>

<g id="row27" transform="translate(0,3871.7)">
<use href="#st4"/>
<use href="#pB" x="31.5" y="45" fill="#00f"/><use href="#pB" x="271.1" y="30" fill="#ff0"/><use href="#pB" x="510.7" y="0" fill="#0f0"/><use href="#pB5" x="750.3" y="15" fill="#f00"/>
<rect class="op" x="431.1" y="-0.75" width="7" height="61.5"/>
<rect class="ob" x="438.1" y="-0.75" width="551.8" height="61.5"/>
<text class="mn" x="32" y="-8.5">105</text><text class="mn" x="271.6" y="-8.5">106</text><text class="mn" x="511.2" y="-8.5">107</text><text class="mn" x="750.8" y="-8.5">108</text>
<text class="a" x="270.1" y="76.7">180</text><text class="b" x="270.1" y="89.7">121460</text><text class="p" x="270.1" y="102.7">68.70%</text>
<text class="a" x="509.7" y="76.7">180</text><text class="b" x="509.7" y="89.7">123026</text><text class="p" x="509.7" y="102.7">64.97%</text>
<text class="a" x="749.3" y="76.7">180</text><text class="b" x="749.3" y="89.7">125186</text><text class="p" x="749.3" y="102.7">52.47%</text>
<text class="a" x="988.9" y="76.7">158</text><text class="b" x="988.9" y="89.7">127082</text><text class="p" x="988.9" y="102.7">39.97%</text>
</g>

<g id="row28" transform="translate(0,4012.7)">
<use href="#st4"/>
<use href="#pB" x="31.5" y="0" fill="#0f0"/><use href="#pB" x="271.1" y="30" fill="#ff0"/><use href="#A1" x="510.7"/><use href="#A2" x="750.3"/>
<rect class="ob" x="31.5" y="-0.75" width="958.4" height="61.5"/>
<text class="mn" x="32" y="-8.5">109</text><text class="mn" x="271.6" y="-8.5">110</text><text class="mn" x="511.2" y="-8.5">111</text><text class="mn" x="750.8" y="-8.5">112</text>
<text class="a" x="270.1" y="76.7">180</text><text class="b" x="270.1" y="89.7">129242</text><text class="p" x="270.1" y="102.7">27.47%</text>
<text class="a" x="509.7" y="76.7">180</text><text class="b" x="509.7" y="89.7">131402</text><text class="p" x="509.7" y="102.7">14.97%</text>
<text class="a" x="749.3" y="76.7">199</text><text class="b" x="749.3" y="89.7">133790</text><text class="p" x="749.3" y="102.7">2.47%</text>
<text class="a" x="988.9" y="76.7">168</text><text class="b" x="988.9" y="89.7">135806</text><text class="p" x="988.9" y="102.7">0.00%</text>
</g>

<g id="row29" transform="translate(0,4153.7)">
<use href="#st2"/>
<use href="#A1" x="31.5"/><use href="#A2" x="271.1"/>
<rect class="ob" x="31.5" y="-0.75" width="286.6" height="61.5"/>
<rect class="op" x="318.1" y="-0.75" width="13" height="61.5"/>
<text class="mn" x="32" y="-8.5">113</text><text class="mn" x="271.6" y="-8.5">114</text>
<text class="a" x="270.1" y="76.7">199</text><text class="b" x="270.1" y="89.7">138194</text><text class="p" x="270.1" y="102.7">0.00%</text>
<text class="a" x="509.7" y="76.7">168</text><text class="b" x="509.7" y="89.7">139802</text><text class="p" x="509.7" y="102.7">0.00%</text>
</g>
</g>
</svg>
